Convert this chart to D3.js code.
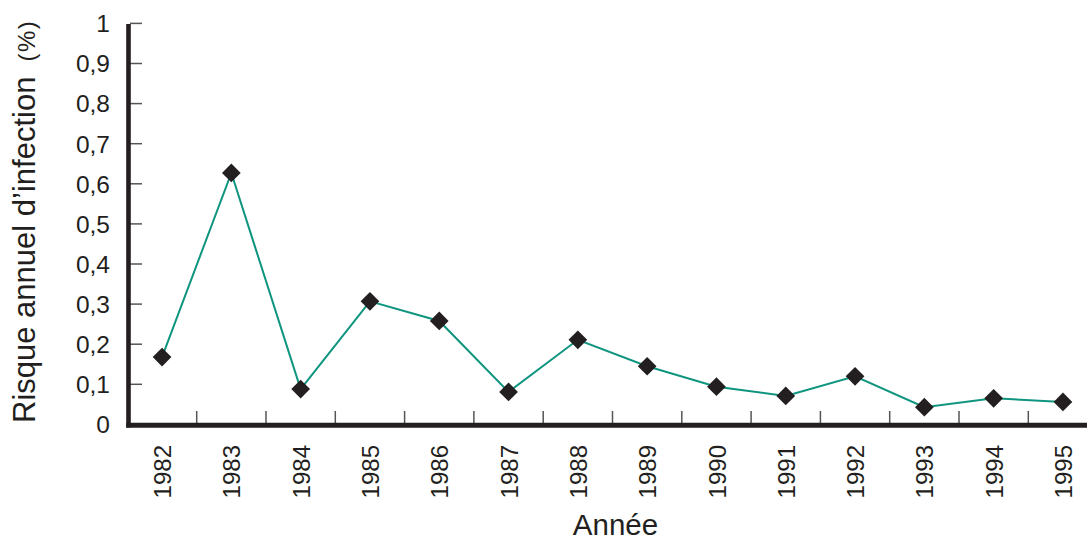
<!DOCTYPE html>
<html><head><meta charset="utf-8">
<script src="https://cdn.jsdelivr.net/npm/d3@7"></script>
<style>body{margin:0;background:#fff}svg{display:block}text{font-family:"Liberation Sans",Arial,sans-serif;fill:#231f20}</style>
</head><body>
<svg id="c" width="1087" height="540"></svg>
<script>
const years = ["1982","1983","1984","1985","1986","1987","1988","1989","1990","1991","1992","1993","1994","1995"];
const risk = [0.168,0.627,0.088,0.307,0.258,0.081,0.211,0.145,0.094,0.071,0.120,0.043,0.065,0.056];
const yTicks = [0,0.1,0.2,0.3,0.4,0.5,0.6,0.7,0.8,0.9,1];
const yTickLabels = ["0","0,1","0,2","0,3","0,4","0,5","0,6","0,7","0,8","0,9","1"];
const xTitle = "Année";
const yTitle = "Risque annuel d\u2019infection";
const yUnit = "(%)";

const svg = d3.select("#c");
const x0 = 127.4, bw = 69.3;
const x = d3.scaleBand().domain(years).range([x0, x0 + bw*years.length]).padding(0);
const y = d3.scaleLinear().domain([0,1]).range([424.4, 23.4]);
const ink = "#231f20";

// y tick marks (inside, to the right)
svg.append("g").selectAll("line").data(yTicks.slice(1)).join("line")
  .attr("x1",130).attr("x2",142).attr("y1",d=>y(d)).attr("y2",d=>y(d))
  .attr("stroke","#555").attr("stroke-width",1.5);
// x tick marks at band boundaries
svg.append("g").selectAll("line").data(years.slice(1)).join("line")
  .attr("x1",d=>x(d)).attr("x2",d=>x(d)).attr("y1",411).attr("y2",424)
  .attr("stroke","#555").attr("stroke-width",1.5);

// axes lines
svg.append("line").attr("x1",128.5).attr("x2",128.5).attr("y1",24).attr("y2",427.6)
  .attr("stroke",ink).attr("stroke-width",4.6);
svg.append("line").attr("x1",126.2).attr("x2",1087).attr("y1",425.2).attr("y2",425.2)
  .attr("stroke",ink).attr("stroke-width",5);

// y tick labels
svg.append("g").selectAll("text").data(yTicks).join("text")
  .attr("x",110).attr("y",d=>y(d)).attr("dy","0.36em")
  .attr("text-anchor","end").attr("font-size",24.5)
  .text((d,i)=>yTickLabels[i]);

// x tick labels rotated
svg.append("g").selectAll("text").data(years).join("text")
  .attr("transform",d=>`translate(${x(d)+x.bandwidth()/2+0.5},445) rotate(-90)`)
  .attr("dy","0.36em").attr("text-anchor","end").attr("font-size",24)
  .text(d=>d);

// line
const line = d3.line().x((d,i)=>x(years[i])+x.bandwidth()/2).y(d=>y(d));
svg.append("path").datum(risk).attr("d",line).attr("fill","none")
  .attr("stroke","#0f957f").attr("stroke-width",2);

// diamond markers
const sym = d3.symbol().type(d3.symbolSquare).size(175);
svg.append("g").selectAll("path").data(risk).join("path")
  .attr("transform",(d,i)=>`translate(${x(years[i])+x.bandwidth()/2},${y(d)}) rotate(45)`)
  .attr("d",sym()).attr("fill",ink);

// titles
svg.append("text").attr("x",615.5).attr("y",535).attr("text-anchor","middle")
  .attr("font-size",29.5).text(xTitle);
const yt = svg.append("text").attr("transform","translate(35,423) rotate(-90)")
  .attr("font-size",31);
yt.append("tspan").text(yTitle);
yt.append("tspan").attr("dx",15).attr("font-size",24).attr("letter-spacing",1.5).text(yUnit);
</script>
</body></html>
